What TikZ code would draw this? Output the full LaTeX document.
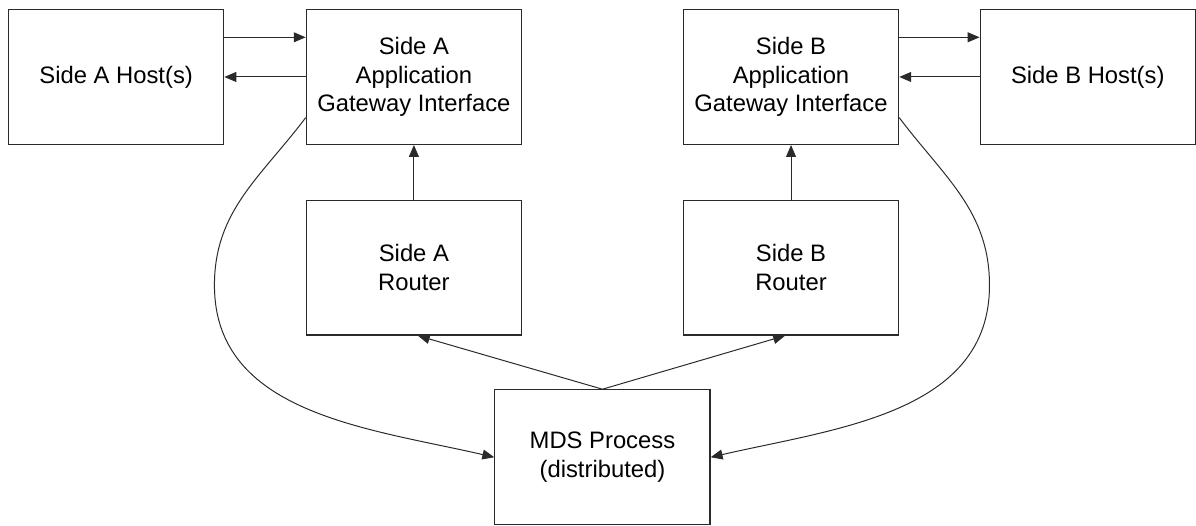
\documentclass[tikz,border=0pt]{standalone}
\usepackage{fontspec}
\setmainfont{Liberation Sans}
\usepackage{tikz}
\usetikzlibrary{arrows.meta,positioning,calc}
\definecolor{cline}{HTML}{2A2A2A}
\tikzset{
  blk/.style={draw=cline, line width=0.6pt, align=center, inner sep=0pt,
              minimum width=108.5pt, minimum height=68pt,
              font=\fontsize{12}{14.5}\selectfont},
  flow/.style={-{Triangle[length=6pt,width=5pt]}, draw=cline, line width=0.5pt},
}

\begin{document}
\begin{tikzpicture}
  % top row: hosts and gateways
  \node[blk] (hostA) {Side A Host(s)};
  \node[blk, right=41pt of hostA] (agiA) {Side A\\Application\\Gateway Interface};
  \node[blk, right=81pt of agiA] (agiB) {Side B\\Application\\Gateway Interface};
  \node[blk, right=40.5pt of agiB] (hostB) {Side B Host(s)};
  % routers under the gateways
  \node[blk, below=27.5pt of agiA] (routerA) {Side A\\Router};
  \node[blk, below=27.5pt of agiB] (routerB) {Side B\\Router};
  \coordinate (mid) at ($(routerA.south)!.5!(routerB.south)$);
  \node[blk, below=27pt of mid] (mds) {MDS Process\\(distributed)};

  \draw[flow] ([yshift=20pt]hostA.east) -- ([yshift=20pt]agiA.west);
  \draw[flow] (agiA) -- (hostA);
  \draw[flow] ([yshift=20pt]agiB.east) -- ([yshift=20pt]hostB.west);
  \draw[flow] (hostB) -- (agiB);
  \draw[flow] (routerA) -- (agiA);
  \draw[flow] (routerB) -- (agiB);
  \draw[flow] (mds.north) -- ([xshift=2pt]routerA.south);
  \draw[flow] (mds.north) -- ([xshift=-3pt]routerB.south);
  % long arcs from the gateways down to the MDS, bending round outside the routers
  \coordinate (arcA) at ($(agiA.west)+(-46pt,-105pt)$);
  \coordinate (arcB) at ($(agiB.east)+(45.5pt,-105pt)$);
  \draw[flow] ([yshift=-20.5pt]agiA.west) to[out=233, in=90] (arcA)
    to[out=-90, in=167] (mds.west);
  \draw[flow] ([yshift=-20.5pt]agiB.east) to[out=-53, in=90] (arcB)
    to[out=-90, in=13] (mds.east);

  \useasboundingbox ($(hostA.north west)+(-4pt,4.5pt)$) rectangle ++(598pt,-263.5pt);
\end{tikzpicture}
\end{document}
